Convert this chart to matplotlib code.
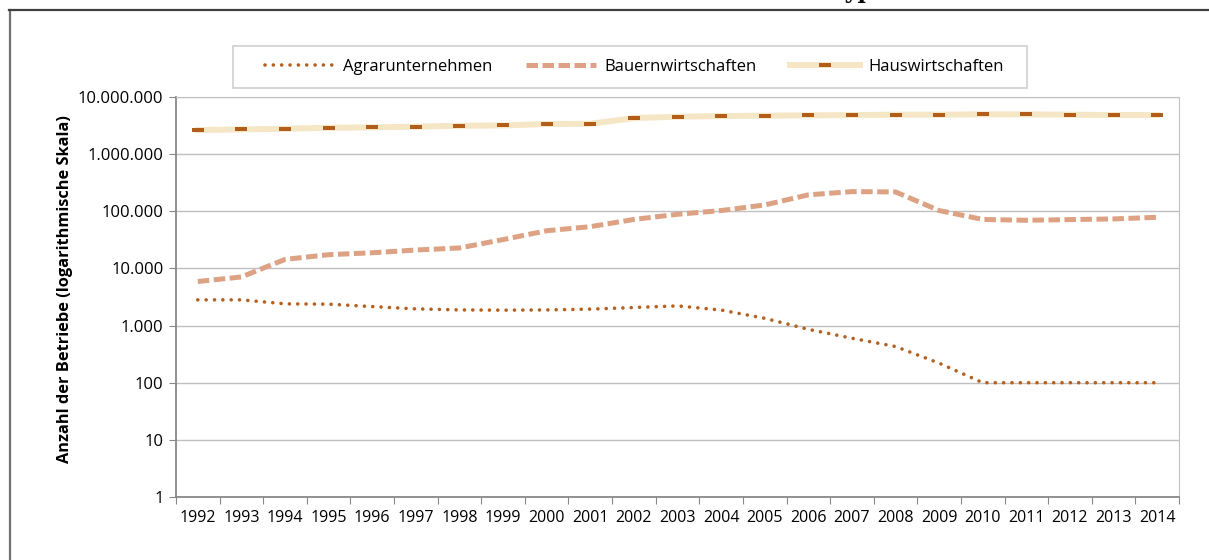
import numpy as np
import matplotlib
matplotlib.use("Agg")
import matplotlib.pyplot as plt
from matplotlib.lines import Line2D
from matplotlib.patches import Rectangle

# Daten (log. Skala)
years = np.arange(1992, 2015)
agrar = [2820, 2820, 2400, 2370, 2150, 1960, 1880, 1860, 1880, 1940, 2070, 2210,
         1870, 1340, 860, 600, 430, 220, 100, 100, 100, 100, 100]
bauern = [5900, 7100, 14400, 17400, 18800, 21000, 22800, 32000, 45700, 53800, 72000, 88600,
          103000, 129000, 194000, 221000, 218000, 103000, 72000, 69600, 71500, 73500, 78500]
haus = [2640000, 2710000, 2780000, 2900000, 2940000, 3020000, 3140000, 3180000, 3360000,
        3400000, 4280000, 4520000, 4640000, 4710000, 4770000, 4830000, 4900000, 4900000,
        4970000, 4970000, 4900000, 4830000, 4830000]
series_names = ["Agrarunternehmen", "Bauernwirtschaften", "Hauswirtschaften"]
y_ticks = [1, 10, 100, 1000, 10000, 100000, 1000000, 10000000]
y_ticklabels = ["1", "10", "100", "1.000", "10.000", "100.000", "1.000.000", "10.000.000"]

plt.rcParams['font.family'] = ['Open Sans', 'DejaVu Sans']

W, H = 1209, 560
fig = plt.figure(figsize=(W / 100, H / 100), dpi=100)
ax = fig.add_axes([176 / W, 1 - 497 / H, (1179 - 176) / W, 400 / H])

x = np.arange(len(years))
ax.plot(x, agrar, color='#B5601E', lw=2.6, linestyle=(0, (0.01, 2.3)),
        dash_capstyle='round', label=series_names[0])
ax.plot(x, bauern, color='#DDA283', lw=3.6, linestyle=(0, (2.3, 0.9)),
        dash_capstyle='butt', label=series_names[1])
rect = [(-1.2, -0.5), (1.2, -0.5), (1.2, 0.5), (-1.2, 0.5), (-1.2, -0.5)]
ax.plot(x, haus, color='#F5E6C6', lw=4.3, marker=rect, markersize=8.6,
        markerfacecolor='#B35D1B', markeredgecolor='#B35D1B', markeredgewidth=0,
        label=series_names[2])

ax.set_yscale('log')
ax.set_ylim(1, 1e7)
ax.set_xlim(-0.5, len(years) - 0.5)
ax.set_yticks(y_ticks)
ax.set_yticklabels(y_ticklabels)
ax.minorticks_off()
ax.tick_params(axis='y', direction='out', length=5, color='#888888', labelsize=12, pad=4)

# Excel-Stil: Striche zwischen den Kategorien, Beschriftung mittig
ax.set_xticks(np.arange(len(years) + 1) - 0.5)
ax.set_xticklabels([])
ax.set_xticks(x, minor=True)
ax.set_xticklabels([str(y) for y in years], minor=True)
ax.tick_params(axis='x', which='major', direction='out', length=5, color='#888888')
ax.tick_params(axis='x', which='minor', length=0, labelsize=11.5, pad=9)

ax.grid(axis='y', color='#C0C0C0', lw=1)
ax.set_axisbelow(True)
for side in ['left', 'bottom']:
    ax.spines[side].set_color('#888888')
    ax.spines[side].set_linewidth(1.3)
ax.spines['right'].set_color('#C0C0C0')
ax.spines['top'].set_color('#C0C0C0')

ax.set_ylabel('Anzahl der Betriebe (logarithmische Skala)', fontsize=11.8,
              fontweight='bold')
ax.yaxis.set_label_coords(-(176 - 73) / 1003, 0.52)

# Legende mit eigenem Rahmen
fig.add_artist(Rectangle((233 / W, 1 - 88 / H), 794 / W, 42 / H, transform=fig.transFigure,
                         facecolor='white', edgecolor='#D0D0D0', lw=1.2))
leg = fig.legend(*ax.get_legend_handles_labels(), loc='center',
                 bbox_to_anchor=(634 / W, 1 - 67 / H), ncol=3, fontsize=12,
                 handlelength=4.2, handletextpad=0.5, columnspacing=2.0,
                 numpoints=1, frameon=False, borderpad=0)

# Rahmen und abgeschnittener Titel oben
fig.add_artist(Line2D([9.5 / W, 9.5 / W], [0, 1 - 10 / H], color='#707070', lw=1.6,
                      transform=fig.transFigure))
fig.add_artist(Line2D([9 / W, 1], [1 - 10 / H, 1 - 10 / H], color='#404040', lw=1.6,
                      transform=fig.transFigure))
fig.text(730 / W, 1 + 2 / H, 'Betriebstypen', fontsize=16, fontweight='bold',
         family='DejaVu Serif', va='baseline', ha='left')

fig.savefig('out.png', dpi=100)
